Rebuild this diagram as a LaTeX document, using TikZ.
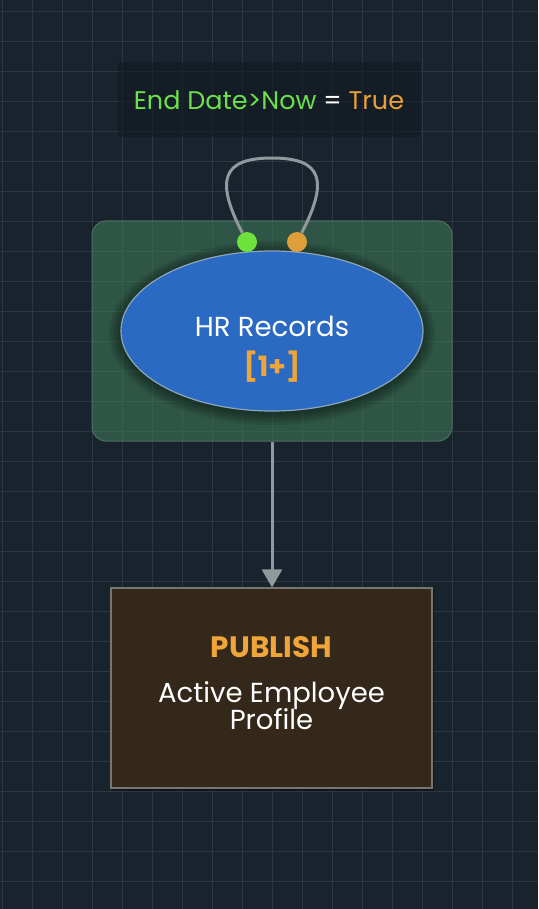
\documentclass[tikz,border=0pt]{standalone}
\usepackage{fontspec}
\setmainfont{Poppins}
\usetikzlibrary{positioning,shapes.geometric,arrows.meta,shadows}
\definecolor{canvas}{RGB}{25,35,45}
\definecolor{gridc}{RGB}{44,55,65}
\definecolor{condbg}{RGB}{18,26,33}
\definecolor{condgreen}{RGB}{108,224,75}
\definecolor{condorange}{RGB}{232,160,58}
\definecolor{grpfill}{RGB}{67,135,93}
\definecolor{grpline}{RGB}{78,110,96}
\definecolor{srcfill}{RGB}{42,106,195}
\definecolor{srcline}{RGB}{140,165,185}
\definecolor{portgreen}{RGB}{110,226,60}
\definecolor{portorange}{RGB}{222,158,58}
\definecolor{wire}{RGB}{145,152,158}
\definecolor{pubfill}{RGB}{51,40,26}
\definecolor{publine}{RGB}{120,118,110}
\definecolor{puborange}{RGB}{240,165,58}

\begin{document}
\begin{tikzpicture}[x=1pt, y=-1pt,
      gridline/.style={draw=gridc, line width=1pt},
      cond/.style={fill=condbg, fill opacity=0.6, text opacity=1,
                   minimum width=303pt, minimum height=75pt,
                   font=\fontsize{25.5}{30}\selectfont, text=white},
      group/.style={draw=grpline, fill=grpfill, fill opacity=0.5, line width=1pt,
                    rounded corners=14pt, minimum width=360pt, minimum height=220pt},
      source/.style={ellipse, draw=srcline, fill=srcfill, line width=1.2pt,
                     minimum width=302pt, minimum height=160pt},
      glow/.style={ellipse, fill=black, opacity=0.07, inner sep=0pt},
      label/.style={inner sep=0pt, font=\fontsize{27.5}{32}\selectfont, text=white},
      port/.style={circle, inner sep=0pt, minimum size=20pt},
      loopline/.style={draw=wire, line width=3pt},
      flow/.style={draw=wire, line width=3pt, -{Triangle[width=20pt, length=18pt]}},
      sink/.style={draw=publine, fill=pubfill, line width=1.2pt,
                   minimum width=321pt, minimum height=200pt,
                   drop shadow={shadow xshift=2pt, shadow yshift=-3pt, opacity=0.4, fill=black}}]

    % canvas and grid
    \fill[canvas] (0,0) rectangle (538,909);
    \useasboundingbox (0,0) rectangle (538,909);
    \foreach \gx in {2,32,...,538} \draw[gridline] (\gx,0) -- (\gx,909);
    \foreach \gy in {11.7,41.7,...,909} \draw[gridline] (0,\gy) -- (538,\gy);

    % condition label
    \node[cond] (cond) at (269,100)
      {\textcolor{condgreen}{End Date>Now} = \textcolor{condorange}{True}};

    % source group
    \node[group] (grp) at (272,331) {};
    \foreach \gw in {4,8,...,24}
      \node[glow, minimum width=302pt+\gw pt, minimum height=160pt+\gw pt] at (272,333) {};
    \node[source] (hr) at (272,331) {};
    \node[label] (hrname) at (272,326) {HR Records};
    \node[label, font=\fontsize{28}{32}\selectfont\bfseries, text=puborange]
      (hrcount) at (272,367) {[1+]};
    \node[port, fill=portgreen]  (pin)  at (247,242) {};
    \node[port, fill=portorange] (pout) at (297,242) {};
    \coordinate (looptop) at (272,158);
    \draw[loopline] (pin) .. controls (215,180) and (222,158) .. (looptop)
                    .. controls (322,158) and (329,180) .. (pout);

    % publish target
    \node[sink] (pub) at (271.5,688) {};
    \node[label, font=\fontsize{29.5}{32}\selectfont\bfseries, text=puborange]
      (pubkind) at (271.5,647) {PUBLISH};
    \node[label, align=center] (pubname) at (271.5,706)
      {Active Employee\\[-5pt]Profile};

    \draw[flow] (grp.south) -- (grp.south |- pub.north);
  \end{tikzpicture}
\end{document}
